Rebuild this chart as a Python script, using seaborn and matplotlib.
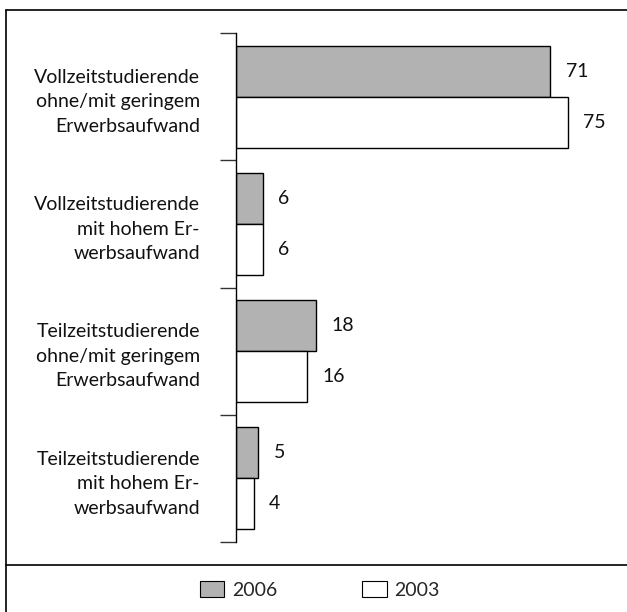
import pandas as pd
import seaborn as sns
import matplotlib.pyplot as plt
from matplotlib.lines import Line2D
from matplotlib.patches import Patch

categories = [
    "Vollzeitstudierende\nohne/mit geringem\nErwerbsaufwand",
    "Vollzeitstudierende\nmit hohem Er-\nwerbsaufwand",
    "Teilzeitstudierende\nohne/mit geringem\nErwerbsaufwand",
    "Teilzeitstudierende\nmit hohem Er-\nwerbsaufwand",
]
years = ["2006", "2003"]
values_2006 = [71, 6, 18, 5]
values_2003 = [75, 6, 16, 4]
colors = {"2006": "#b2b2b2", "2003": "#ffffff"}

df = pd.DataFrame({
    "cat": categories * 2,
    "year": ["2006"] * 4 + ["2003"] * 4,
    "value": values_2006 + values_2003,
})

sns.set_style("white")
plt.rcParams["font.family"] = ["Lato", "DejaVu Sans"]
fs = 14

fig = plt.figure(figsize=(6.27, 6.12), dpi=100)
ax = fig.add_axes([236 / 627, 1 - 542 / 612, (620 - 236) / 627, (542 - 33) / 612])

sns.barplot(data=df, x="value", y="cat", hue="year", hue_order=years,
            order=categories, palette=colors, orient="h", width=0.8,
            edgecolor="black", linewidth=1, ax=ax, legend=False)

for cont in ax.containers:
    ax.bar_label(cont, padding=11, fontsize=fs, color="#111111")

ax.set_xlim(0, 86.7)
ax.set_ylim(3.5, -0.5)
ax.set_xlabel("")
ax.set_ylabel("")
ax.set_xticks([])
for s in ["top", "right", "bottom"]:
    ax.spines[s].set_visible(False)
ax.spines["left"].set_color("black")
ax.spines["left"].set_linewidth(1)

ax.set_yticks(range(len(categories)))
ax.set_yticklabels(categories, fontsize=fs, linespacing=1.53, color="#111111")
ax.tick_params(axis="y", which="major", length=0, pad=26)
ax.set_yticks([-0.5, 0.5, 1.5, 2.5, 3.5], minor=True)
ax.tick_params(axis="y", which="minor", length=11.5, width=1, color="#333333", left=True)

# outer frame and legend separator
fig.add_artist(Line2D([6 / 627, 1], [1 - 10 / 612] * 2, color="black", lw=1.2, transform=fig.transFigure))
fig.add_artist(Line2D([6 / 627] * 2, [0, 1 - 10 / 612], color="black", lw=1.2, transform=fig.transFigure))
fig.add_artist(Line2D([6 / 627, 1], [1 - 565 / 612] * 2, color="black", lw=1.2, transform=fig.transFigure))

handles = [Patch(facecolor=colors[y], edgecolor="black", linewidth=0.8, label=y) for y in years]
fig.legend(handles=handles, loc="center", bbox_to_anchor=(0.510, 1 - 590 / 612), ncol=2,
           frameon=False, fontsize=fs, handlelength=1.25, handleheight=0.85,
           handletextpad=0.4, columnspacing=4.4)

fig.savefig("out.png", dpi=100)
